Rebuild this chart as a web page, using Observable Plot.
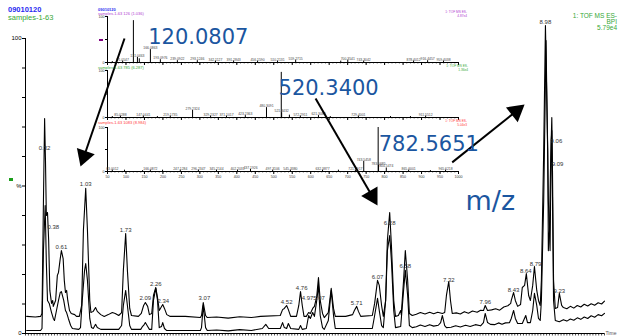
<!DOCTYPE html>
<html><head><meta charset="utf-8">
<script src="https://cdn.jsdelivr.net/npm/d3@7"></script>
<script src="https://cdn.jsdelivr.net/npm/@observablehq/plot@0.6"></script>
<style>
body{margin:0;background:#fff}
#wrap{position:relative;width:618px;height:336px;overflow:hidden;background:#fff}
#wrap svg{position:absolute;left:0;top:0}
#wrap .t{position:absolute;white-space:nowrap;line-height:1;font-family:"Liberation Sans",Arial,sans-serif}
</style></head>
<body><div id="wrap"></div>
<script>
// ---------- main chromatogram (time in min, intensity in %) ----------
const upperTime = [0.02,0.17,0.26,0.285,0.31,0.33,0.345,0.36,0.38,0.40,0.42,0.45,0.47,0.48,0.52,0.55,0.57,0.60,0.62,0.65,0.67,0.69,0.71,0.73,0.76,0.79,0.85,0.88,0.93,0.97,1.00,1.04,1.07,1.11,1.13,1.17,1.21,1.24,1.30,1.36,1.43,1.50,1.55,1.61,1.66,1.69,1.73,1.76,1.80,1.83,1.95,2.00,2.04,2.07,2.11,2.14,2.18,2.21,2.25,2.28,2.31,2.33,2.37,2.40,2.44,2.50,2.76,3.02,3.04,3.07,3.11,3.14,3.3,3.5,3.7,3.9,4.06,4.40,4.44,4.47,4.51,4.54,4.58,4.68,4.72,4.75,4.78,4.81,4.85,4.89,4.92,4.96,4.99,5.03,5.06,5.09,5.13,5.16,5.23,5.28,5.32,5.35,5.53,5.65,5.68,5.72,5.75,5.79,5.99,6.03,6.08,6.11,6.15,6.18,6.22,6.25,6.29,6.32,6.36,6.39,6.44,6.48,6.49,6.53,6.56,6.60,6.63,6.68,6.75,6.82,6.90,6.98,7.05,7.12,7.20,7.24,7.27,7.31,7.34,7.37,7.44,7.51,7.58,7.65,7.72,7.80,7.86,7.91,7.94,7.98,8.05,8.12,8.19,8.26,8.33,8.38,8.39,8.43,8.46,8.50,8.55,8.58,8.62,8.65,8.69,8.72,8.76,8.79,8.83,8.86,8.89,8.91,8.95,8.98,9.02,9.03,9.05,9.07,9.09,9.10,9.12,9.15,9.19,9.22,9.26,9.29,9.35,9.41,9.47,9.53,9.59,9.65,9.71,9.77,9.83,9.89,9.95,10.0];
const upperInt = [5.8,5.6,5.8,6.8,45.1,72.9,58.6,40.0,41.0,31.5,14.6,10.2,11.2,9.2,11.2,19.7,20.7,25.4,28.1,25.4,18.0,13.9,14.6,11.2,7.8,6.8,6.4,5.8,5.8,9.5,34.9,49.2,34.9,11.2,7.1,7.5,8.8,7.5,6.4,5.8,6.4,7.1,6.8,6.1,7.1,21.4,33.9,21.4,8.5,6.1,5.8,6.8,9.5,10.5,9.2,6.4,6.8,12.9,15.6,12.2,7.8,8.5,9.8,8.5,6.4,5.8,5.8,5.4,6.1,10.5,6.1,5.4,5.6,5.2,5.7,5.4,5.8,6.1,8.1,8.5,9.5,8.1,5.8,5.8,9.5,14.2,9.5,5.8,5.8,7.1,6.8,8.5,9.2,12.5,19.0,11.2,6.8,5.4,7.1,15.3,8.5,5.8,5.8,6.4,7.8,9.2,7.5,5.8,6.1,10.2,18.0,16.3,9.5,5.8,11.2,31.5,41.0,29.8,11.2,5.8,6.1,7.8,6.4,18.0,28.1,18.0,6.8,6.1,6.5,7.1,6.6,7.2,6.7,7.2,6.8,7.1,12.9,17.6,11.2,6.8,7.0,6.6,7.4,6.9,7.6,7.2,7.9,7.8,9.5,7.8,8.0,8.4,7.9,9.0,9.4,10.2,11.2,13.9,11.2,9.2,9.8,15.6,16.3,20.3,12.9,11.2,16.3,22.7,14.6,11.2,9.5,18.0,62.0,104.4,62.0,28.1,34.9,58.6,73.2,58.6,18.0,8.5,8.8,13.6,9.5,8.8,8.4,9.2,8.6,9.5,9.0,9.9,9.3,10.1,9.6,10.4,10.0,11.0];
const lowerTime = [0.02,0.26,0.285,0.31,0.34,0.36,0.38,0.41,0.45,0.48,0.50,0.535,0.57,0.60,0.62,0.66,0.69,0.71,0.74,0.78,0.81,0.92,0.95,0.98,1.02,1.04,1.07,1.11,1.14,1.17,1.21,1.24,1.30,1.61,1.66,1.69,1.73,1.76,1.80,1.83,1.99,2.02,2.04,2.07,2.11,2.14,2.18,2.21,2.25,2.28,2.31,2.35,2.37,2.40,2.44,3.02,3.04,3.07,3.11,3.14,3.3,3.5,3.7,3.9,4.09,4.15,4.20,4.40,4.44,4.47,4.51,4.54,4.58,4.72,4.75,4.78,4.85,4.89,4.92,4.96,4.99,5.03,5.06,5.09,5.13,5.16,5.23,5.28,5.32,5.35,5.99,6.03,6.08,6.11,6.15,6.18,6.22,6.25,6.29,6.32,6.36,6.39,6.48,6.53,6.56,6.60,6.63,6.68,6.75,6.82,6.90,6.98,7.05,7.13,7.17,7.20,7.24,7.27,7.35,7.43,7.51,7.60,7.68,7.77,7.86,7.91,7.94,7.98,8.03,8.10,8.17,8.23,8.29,8.36,8.39,8.43,8.46,8.50,8.58,8.64,8.67,8.72,8.76,8.79,8.83,8.86,8.89,8.91,8.95,8.99,9.03,9.06,9.08,9.09,9.12,9.15,9.22,9.29,9.35,9.41,9.47,9.53,9.59,9.65,9.71,9.77,9.83,9.89,9.95,10.0];
const lowerInt = [1.0,1.0,1.7,28.1,43.4,24.1,11.2,10.2,7.1,5.1,4.4,7.8,11.2,13.9,14.2,11.2,7.8,7.1,5.1,2.7,1.7,1.4,2.0,11.2,21.4,23.7,18.0,5.1,2.0,1.7,3.1,2.0,1.4,1.4,2.7,9.5,14.6,9.5,2.7,1.4,1.4,2.4,2.7,3.7,2.4,1.4,1.4,11.2,15.3,11.2,2.0,2.4,3.7,1.7,1.0,1.0,2.0,9.5,2.0,1.0,1.2,0.9,1.3,1.0,1.7,3.1,1.7,1.7,3.7,2.0,1.7,3.4,1.7,1.4,2.7,1.4,1.7,6.1,5.1,7.1,5.8,11.2,16.3,6.1,2.0,1.4,4.4,14.6,6.1,1.7,1.7,6.1,11.9,7.8,2.7,2.0,11.2,28.1,33.2,24.7,7.8,2.0,2.4,14.6,21.4,12.9,2.7,2.0,2.3,2.9,2.4,3.0,2.5,2.8,3.7,6.1,2.7,2.0,2.1,2.6,2.2,2.8,2.4,3.0,2.6,3.7,6.8,3.7,3.1,3.0,3.6,3.1,3.6,3.7,5.1,7.8,5.1,3.4,3.4,6.1,3.7,3.7,7.8,13.6,9.5,5.1,4.4,11.2,45.1,99.3,45.1,28.1,65.4,68.8,11.2,4.4,4.0,4.7,4.2,4.9,4.5,5.3,4.8,5.6,5.1,6.0,5.5,6.4,6.0,6.8];
const peakLabelText = ["0.32","0.38","0.61","1.03","1.73","2.09","2.26","2.34","3.07","4.52","4.76","4.97","5.07","5.71","6.07","6.28","6.58","7.32","7.96","8.43","8.64","8.79","8.98","9.06","9.09","9.23"];
const peakLabelTime = [0.33,0.48,0.62,1.04,1.73,2.07,2.25,2.38,3.09,4.51,4.77,4.87,5.07,5.72,6.08,6.29,6.56,7.31,7.94,8.43,8.64,8.81,8.98,9.17,9.19,9.22];
const peakLabelInt = [62.2,35.4,28.6,50.0,34.4,11.5,16.1,10.5,11.5,10.0,14.7,11.5,11.5,9.7,18.5,36.8,22.2,17.5,10.0,14.1,20.5,22.9,104.9,64.6,56.8,13.7];

// ---------- mass spectra insets (m/z, relative intensity %) ----------
const spec1Mz = [63,91.05,120.0807,131.05,136.06,166.09,193.10,239.09,293.12,342.11,391.28,456.16,510.21,559.27,681.33,700.35,743.30,878.40,916.45,959.40];
const spec1Int = [2,3,91,11,8,28,6,4,4,3,3,3,3,5,3,5,3,3,4,3];
const spec1Label = ["","91.0547","","131.0463","","166.0863","193.0976","239.0922","293.1246","342.1127","391.2843","456.1590","510.2131","559.2715","","700.3541","743.3042","878.4012","916.4457","959.4038"];
const spec2Mz = [63,85,147,185,220,280.26,329,372,423,480.31,520.34,521.34,542.32,572,621,653,729,816,870,911];
const spec2Int = [2,3,3,2,3,15,3,3,4,21,96,10,5,3,4,2,3,2,2,3];
const spec2Label = ["","85.0288","147.0441","","219.1735","279.2324","329.2327","371.1017","423.2363","480.3091","","521.3432","","572.2911","621.3088","","729.4001","","","911.5512"];
const spec3Mz = [63,96,145,166,199,247,296,345,402,437,497,545,632,675,721,743.55,782.5651,783.57,804.55,865,924,965];
const spec3Int = [3,3,2,3,3,3,3,3,3,5,3,3,3,3,3,23,100,14,8,3,2,3];
const spec3Label = ["63.0012","","","166.0872","","247.1284","296.2347","345.2144","402.2031","437.1926","497.3106","545.3380","632.3877","","721.4917","743.5458","","783.5685","804.5474","865.6001","","965.6218"];

// ---------- callouts ----------
const calloutText = ["120.0807","520.3400","782.5651"];
const calloutTime = [2.12,4.37,6.10];
const calloutInt = [98.0,81.0,62.0];
const axisNote = ["m/z"];
const axisNoteTime = [7.60];
const axisNoteInt = [41.7];
const arrowFromTime = [1.71,5.01,7.37];
const arrowFromInt = [100,79.7,58.0];
const arrowToTime = [0.95,6.08,8.62];
const arrowToInt = [56.6,43.4,77.6];

// ---------- build ----------
const W = 618, H = 336;
const wrap = document.getElementById("wrap");
const FONT = "'Liberation Sans', Arial, sans-serif";
const mainOpts = {width: W, height: H, marginLeft: 25, marginRight: 14, marginTop: 38, marginBottom: 3,
  x: {domain: [0, 10], axis: null}, y: {domain: [0, 100], axis: null}};

const upper = upperTime.map((t, i) => ({t, v: upperInt[i]}));
const lower = lowerTime.map((t, i) => ({t, v: lowerInt[i]}));
const plabels = peakLabelText.map((s, i) => ({s, t: peakLabelTime[i], v: peakLabelInt[i]}));

const main = Plot.plot({...mainOpts,
  style: {background: "white", overflow: "visible", fontFamily: FONT},
  marks: [
    Plot.ruleX([0], {y1: 0, y2: 100, stroke: "black", strokeWidth: 1}),
    Plot.ruleY([0], {x1: 0, x2: 10, stroke: "black", strokeWidth: 1}),
    Plot.axisX({ticks: d3.range(0, 10.0001, 0.05), tickSize: 2.5, tickFormat: () => "", label: null, strokeWidth: 0.7}),
    Plot.axisY({ticks: d3.range(0, 100.1, 10), tickSize: 3, tickPadding: 1, label: null, fontSize: 6,
      tickFormat: d => d === 0 ? "0" : d === 50 ? "%" : d === 100 ? "100" : ""}),
    Plot.line(lower, {x: "t", y: "v", stroke: "black", strokeWidth: 1.1}),
    Plot.line(upper, {x: "t", y: "v", stroke: "black", strokeWidth: 1.1}),
    Plot.text(plabels, {x: "t", y: "v", text: "s", fontSize: 6, fill: "#333", lineAnchor: "bottom"}),
    Plot.text(["Time"], {frameAnchor: "bottom-right", dx: 1, dy: 1, textAnchor: "start", lineAnchor: "bottom", fontSize: 5, fill: "#555"})
  ]});
wrap.appendChild(main);

function inset(mz, ints, labs, top, base, tickLabels) {
  const data = mz.map((m, i) => ({m, v: ints[i], s: labs[i]}));
  return Plot.plot({width: W, height: H, marginLeft: 107, marginRight: 160, marginTop: top, marginBottom: H - base,
    x: {domain: [50, 1000], axis: null}, y: {domain: [0, 100], axis: null},
    style: {background: "transparent", overflow: "visible", fontFamily: FONT},
    marks: [
      Plot.ruleY([0], {x1: 50, x2: 1000, stroke: "black", strokeWidth: 1}),
      Plot.ruleX([50], {y1: 0, y2: 100, stroke: "black", strokeWidth: 1}),
      Plot.axisX({ticks: d3.range(50, 1001, 10), tickSize: 1.5, tickFormat: () => "", label: null, strokeWidth: 0.6}),
      Plot.axisX({ticks: d3.range(50, 1001, 50), tickSize: 3, tickPadding: 0.5, label: null, fontSize: 3.6, fill: "#333",
        tickFormat: tickLabels ? (d => String(d)) : (() => "")}),
      Plot.axisY({ticks: [0, 50, 100], tickSize: 2, tickPadding: 1, label: null, fontSize: 3.6, fill: "#333",
        tickFormat: d => d === 100 ? "100" : d === 0 ? "0" : ""}),
      Plot.ruleX(data, {x: "m", y1: 0, y2: "v", stroke: "black", strokeWidth: 1}),
      Plot.text(data, {x: "m", y: "v", text: "s", fontSize: 3.4, fill: "#444", lineAnchor: "bottom", dy: -0.5})
    ]});
}
wrap.appendChild(inset(spec1Mz, spec1Int, spec1Label, 16, 62, false));
wrap.appendChild(inset(spec2Mz, spec2Int, spec2Label, 70, 117, false));
wrap.appendChild(inset(spec3Mz, spec3Int, spec3Label, 127, 171, true));

// arrows + callouts overlay, in the chromatogram's own data space
const xs = main.scale("x"), ys = main.scale("y");
const R = 7;
const tipDist = 2 * Math.sqrt(Math.PI * R * R / (3 * Math.sqrt(3)));
const arrows = arrowFromTime.map((_, i) => {
  const x1 = xs.apply(arrowFromTime[i]), y1 = ys.apply(arrowFromInt[i]);
  const x2 = xs.apply(arrowToTime[i]), y2 = ys.apply(arrowToInt[i]);
  const dx = x2 - x1, dy = y2 - y1, L = Math.hypot(dx, dy);
  const cx = x2 - dx / L * tipDist, cy = y2 - dy / L * tipDist;
  return {x1: arrowFromTime[i], y1: arrowFromInt[i], x2: xs.invert(cx), y2: ys.invert(cy),
    a: Math.atan2(dx, -dy) * 180 / Math.PI};
});
const callouts = calloutText.map((s, i) => ({s, t: calloutTime[i], v: calloutInt[i]}));
const notes = axisNote.map((s, i) => ({s, t: axisNoteTime[i], v: axisNoteInt[i]}));
const ann = Plot.plot({...mainOpts,
  style: {background: "transparent", overflow: "visible"},
  marks: [
    Plot.link(arrows, {x1: "x1", y1: "y1", x2: "x2", y2: "y2", stroke: "black", strokeWidth: 2}),
    Plot.dot(arrows, {x: "x2", y: "y2", symbol: "triangle", r: R, fill: "black", stroke: "none", rotate: "a"}),
    Plot.text(callouts, {x: "t", y: "v", text: "s", fontSize: 21, fill: "#1b56a0", textAnchor: "start", lineAnchor: "bottom", fontFamily: "DejaVu Sans"}),
    Plot.text(notes, {x: "t", y: "v", text: "s", fontSize: 27, fill: "#1b56a0", textAnchor: "start", lineAnchor: "bottom", fontFamily: "DejaVu Sans"})
  ]});
wrap.appendChild(ann);

// header texts (titles of the chromatogram and spectra)
function label(text, x, yc, size, color, opts = {}) {
  const el = document.createElement("span");
  el.className = "t";
  el.textContent = text;
  el.style.fontSize = size + "px";
  el.style.color = color;
  el.style.top = (yc - 0.49 * size) + "px";
  if (opts.right) el.style.right = (W - x) + "px"; else el.style.left = x + "px";
  if (opts.bold) el.style.fontWeight = "bold";
  wrap.appendChild(el);
}
label("09010120", 8, 9.5, 7.5, "#2a2af0", {bold: true});
label("samples-1-63", 8, 18, 7.5, "#36a836");
label("1: TOF MS ES-", 617, 16, 6.5, "#36a836", {right: true});
label("BPI", 617, 22, 6.5, "#36a836", {right: true});
label("5.79e4", 617, 28, 6.5, "#36a836", {right: true});
label("09010120", 98, 9.5, 4, "#2a2af0", {bold: true});
label("samples-1-63 126 (1.036)", 98, 13.5, 4, "#b040d0");
label("1: TOF MS ES-", 467, 12.8, 3.2, "#b040d0", {right: true});
label("4.87e4", 467, 16.6, 3.2, "#b040d0", {right: true});
label("samples-1-63 785 (6.287)", 98, 68, 4, "#36a836");
label("1: TOF MS ES-", 468, 66.8, 3.2, "#36a836", {right: true});
label("1.36e4", 468, 70.6, 3.2, "#36a836", {right: true});
label("samples-1-63 1083 (8.984)", 98, 122.7, 4, "#ff3a3a");
label("1: TOF MS ES-", 467, 121.8, 3.2, "#ff3a3a", {right: true});
label("5.04e3", 467, 125.6, 3.2, "#ff3a3a", {right: true});
// small legend markers
function marker(x, y, w, h, color) {
  const el = document.createElement("div");
  Object.assign(el.style, {position: "absolute", left: x + "px", top: y + "px", width: w + "px", height: h + "px", background: color});
  wrap.appendChild(el);
}
marker(9, 178, 4, 3, "#1a9e1a");
marker(99, 39, 4, 2, "#800080");
</script></body></html>
